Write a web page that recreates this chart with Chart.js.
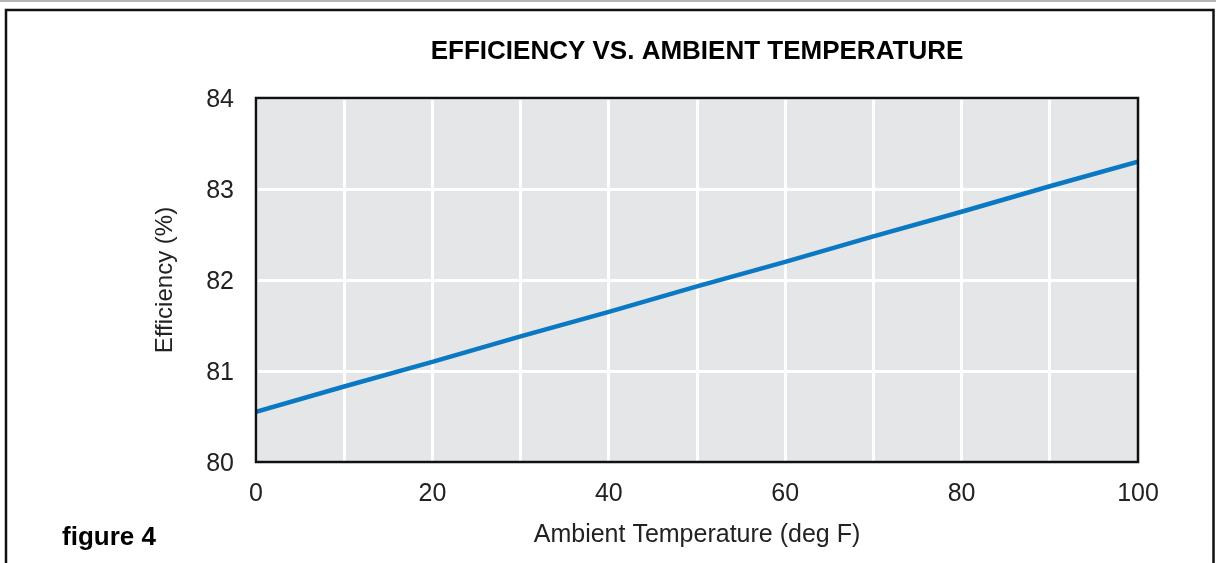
<!DOCTYPE html>
<html>
<head>
<meta charset="utf-8">
<script src="https://cdn.jsdelivr.net/npm/chart.js@4.4.1/dist/chart.umd.min.js"></script>
<style>
  html, body { margin: 0; padding: 0; background: #fff; }
  #wrap { width: 1216px; height: 563px; position: relative; }
</style>
</head>
<body>
<div id="wrap"><canvas id="c"></canvas></div>
<script>
// Data
const temperatures = [0, 10, 20, 30, 40, 50, 60, 70, 80, 90, 100];
const efficiency = [80.55, 80.83, 81.10, 81.38, 81.65, 81.93, 82.20, 82.48, 82.75, 83.03, 83.30];
const xTickLabels = ['0', '20', '40', '60', '80', '100'];
const yTickLabels = ['80', '81', '82', '83', '84'];
const chartTitle = 'EFFICIENCY VS. AMBIENT TEMPERATURE';
const xAxisTitle = 'Ambient Temperature (deg F)';
const yAxisTitle = 'Efficiency (%)';
const figureLabel = 'figure 4';

const FONT = '"Liberation Sans", Arial, Helvetica, sans-serif';

const framePlugin = {
  id: 'framePlugin',
  beforeDraw(chart) {
    const ctx = chart.ctx;
    const a = chart.chartArea;
    ctx.save();
    // outer frame
    ctx.fillStyle = '#b5b5b5';
    ctx.fillRect(0, 0, chart.width, 2);
    ctx.strokeStyle = '#111';
    ctx.lineWidth = 2.5;
    ctx.beginPath();
    ctx.moveTo(6, chart.height + 5);
    ctx.lineTo(6, 10);
    ctx.lineTo(1213.5, 10);
    ctx.lineTo(1213.5, chart.height + 5);
    ctx.stroke();
    // plot background
    ctx.fillStyle = '#e5e6e8';
    ctx.fillRect(a.left, a.top, a.right - a.left, a.bottom - a.top);
    ctx.restore();
  },
  afterDraw(chart) {
    const ctx = chart.ctx;
    const a = chart.chartArea;
    ctx.save();
    ctx.strokeStyle = '#111';
    ctx.lineWidth = 2.5;
    ctx.strokeRect(a.left, a.top, a.right - a.left, a.bottom - a.top);
    ctx.fillStyle = '#000';
    // chart title centred over the plot area
    ctx.font = 'bold 26px ' + FONT;
    ctx.textAlign = 'center';
    ctx.textBaseline = 'middle';
    ctx.fillText(chartTitle, (a.left + a.right) / 2, 52);
    // figure label
    ctx.font = 'bold 26px ' + FONT;
    ctx.textAlign = 'left';
    ctx.textBaseline = 'alphabetic';
    ctx.fillText(figureLabel, 62, 545);
    ctx.restore();
  }
};

new Chart(document.getElementById('c'), {
  type: 'line',
  data: {
    datasets: [{
      data: temperatures.map((t, i) => ({ x: t, y: efficiency[i] })),
      borderColor: '#0a78c2',
      borderWidth: 4.5,
      pointRadius: 0,
      tension: 0,
      fill: false
    }]
  },
  options: {
    responsive: true,
    maintainAspectRatio: false,
    animation: false,
    devicePixelRatio: 1,
    layout: { padding: { left: 0, right: 78, top: 98, bottom: 0 } },
    plugins: {
      legend: { display: false },
      tooltip: { enabled: false },
      title: { display: false }
    },
    scales: {
      x: {
        type: 'linear',
        min: 0,
        max: 100,
        afterFit(s) { s.height = 101; },
        border: { display: false },
        grid: { color: '#ffffff', lineWidth: 3, drawTicks: false },
        ticks: {
          stepSize: 10,
          padding: 17,
          color: '#222',
          font: { family: FONT, size: 25 },
          maxRotation: 0,
          autoSkip: false,
          callback(v) { const s = String(v); return xTickLabels.includes(s) ? s : ''; }
        },
        title: {
          display: true,
          text: xAxisTitle,
          color: '#222',
          font: { family: FONT, size: 25, lineHeight: 1.2 },
          padding: { top: 0, bottom: 13 }
        }
      },
      y: {
        min: 80,
        max: 84,
        afterFit(s) { s.width = 256; },
        border: { display: false },
        grid: { color: '#ffffff', lineWidth: 3, drawTicks: false },
        ticks: {
          stepSize: 1,
          padding: 22,
          labelOffset: 2,
          color: '#222',
          font: { family: FONT, size: 25 },
          callback(v) { const s = String(v); return yTickLabels.includes(s) ? s : ''; }
        },
        title: {
          display: true,
          text: yAxisTitle,
          color: '#222',
          font: { family: FONT, size: 24, lineHeight: 1.2 },
          padding: { top: 151, bottom: 0 }
        }
      }
    }
  },
  plugins: [framePlugin]
});
</script>
</body>
</html>
